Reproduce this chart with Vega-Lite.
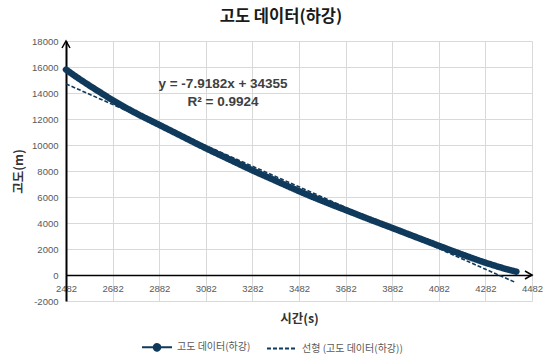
{
  "$schema": "https://vega.github.io/schema/vega-lite/v6.json",
  "width": 466,
  "height": 260,
  "autosize": "none",
  "padding": {"left": 66, "top": 41, "right": 15, "bottom": 58},
  "background": "white",
  "title": {
    "text": "고도 데이터(하강)",
    "font": "Noto Sans CJK KR",
    "fontSize": 16.5,
    "fontWeight": "bold",
    "color": "#1a1a1a",
    "anchor": "middle",
    "dx": -18,
    "offset": 11
  },
  "config": {
    "view": {"stroke": null},
    "axis": {
      "grid": true,
      "gridColor": "#d9d9d9",
      "gridWidth": 1,
      "ticks": false,
      "domainColor": "#000000",
      "labelFont": "Liberation Sans",
      "labelFontSize": 9.5,
      "labelColor": "#595959",
      "titleFont": "Noto Sans CJK KR",
      "titleFontSize": 12.5,
      "titleFontWeight": "bold",
      "titleColor": "#333333"
    },
    "legend": {
      "orient": "none",
      "legendX": 75,
      "legendY": 290,
      "direction": "horizontal",
      "labelFont": "Noto Sans CJK KR",
      "labelFontSize": 10,
      "labelColor": "#595959",
      "symbolSize": 900,
      "symbolStrokeWidth": 2,
      "columnPadding": 12,
      "labelOffset": 4
    }
  },
  "data": {
    "values": [
      {"t": 2482, "alt": 15800, "series": "고도 데이터(하강)"},
      {"t": 2532, "alt": 15170, "series": "고도 데이터(하강)"},
      {"t": 2582, "alt": 14580, "series": "고도 데이터(하강)"},
      {"t": 2632, "alt": 14010, "series": "고도 데이터(하강)"},
      {"t": 2682, "alt": 13450, "series": "고도 데이터(하강)"},
      {"t": 2782, "alt": 12450, "series": "고도 데이터(하강)"},
      {"t": 2882, "alt": 11550, "series": "고도 데이터(하강)"},
      {"t": 2982, "alt": 10650, "series": "고도 데이터(하강)"},
      {"t": 3082, "alt": 9750, "series": "고도 데이터(하강)"},
      {"t": 3182, "alt": 8900, "series": "고도 데이터(하강)"},
      {"t": 3282, "alt": 8050, "series": "고도 데이터(하강)"},
      {"t": 3382, "alt": 7250, "series": "고도 데이터(하강)"},
      {"t": 3482, "alt": 6450, "series": "고도 데이터(하강)"},
      {"t": 3582, "alt": 5700, "series": "고도 데이터(하강)"},
      {"t": 3682, "alt": 5000, "series": "고도 데이터(하강)"},
      {"t": 3782, "alt": 4300, "series": "고도 데이터(하강)"},
      {"t": 3882, "alt": 3620, "series": "고도 데이터(하강)"},
      {"t": 3982, "alt": 2930, "series": "고도 데이터(하강)"},
      {"t": 4082, "alt": 2250, "series": "고도 데이터(하강)"},
      {"t": 4182, "alt": 1580, "series": "고도 데이터(하강)"},
      {"t": 4282, "alt": 950, "series": "고도 데이터(하강)"},
      {"t": 4352, "alt": 560, "series": "고도 데이터(하강)"},
      {"t": 4415, "alt": 250, "series": "고도 데이터(하강)"},
      {"t": 2482, "alt": 14702, "series": "선형 (고도 데이터(하강))"},
      {"t": 4410, "alt": -564, "series": "선형 (고도 데이터(하강))"}
    ]
  },
  "encoding": {
    "x": {
      "field": "t",
      "type": "quantitative",
      "scale": {"domain": [2482, 4482], "nice": false, "zero": false},
      "axis": {
        "title": "시간(s)",
        "offset": -26,
        "values": [2482, 2682, 2882, 3082, 3282, 3482, 3682, 3882, 4082, 4282, 4482],
        "labelExpr": "'' + datum.value",
        "labelFlush": false,
        "labelPadding": 8,
        "domainWidth": 1.5,
        "titlePadding": 20
      }
    },
    "y": {
      "field": "alt",
      "type": "quantitative",
      "scale": {"domain": [-2000, 18000], "nice": false},
      "axis": {
        "title": "고도(m)",
        "values": [-2000, 0, 2000, 4000, 6000, 8000, 10000, 12000, 14000, 16000, 18000],
        "labelExpr": "'' + datum.value",
        "labelPadding": 8,
        "domainWidth": 2,
        "titlePadding": 6
      }
    }
  },
  "layer": [
    {
      "transform": [{"filter": "datum.series === '고도 데이터(하강)'"}],
      "mark": {"type": "line", "strokeWidth": 6.5, "strokeCap": "round", "strokeJoin": "round", "interpolate": "monotone"},
      "encoding": {
        "color": {
          "field": "series",
          "type": "nominal",
          "scale": {"domain": ["고도 데이터(하강)", "선형 (고도 데이터(하강))"], "range": ["#103a5c", "#103a5c"]},
          "legend": {
            "title": null,
            "encode": {
              "symbols": {
                "update": {
                  "shape": {"signal": "datum.value === '고도 데이터(하강)' ? 'M-1,0L1,0M0.22,0A0.22,0.22,0,1,1,-0.22,0A0.22,0.22,0,1,1,0.22,0' : 'stroke'"},
                  "fill": {"signal": "datum.value === '고도 데이터(하강)' ? '#103a5c' : 'transparent'"}
                }
              }
            }
          }
        },
        "strokeDash": {
          "field": "series",
          "type": "nominal",
          "scale": {"domain": ["고도 데이터(하강)", "선형 (고도 데이터(하강))"], "range": [[1, 0], [4, 2]]},
          "legend": {"title": null}
        }
      }
    },
    {
      "transform": [{"filter": "datum.series === '선형 (고도 데이터(하강))'"}],
      "mark": {"type": "line", "strokeWidth": 1.6},
      "encoding": {
        "color": {"field": "series", "type": "nominal"},
        "strokeDash": {"field": "series", "type": "nominal"}
      }
    },
    {
      "data": {"values": [{"t": 2482, "alt": 18000}]},
      "mark": {"type": "point", "shape": "M-2,3.5L0,0L2,3.5", "size": 16, "filled": false, "stroke": "#000000", "strokeWidth": 1.5, "opacity": 1}
    },
    {
      "data": {"values": [{"t": 4482, "alt": 0}]},
      "mark": {"type": "point", "shape": "M-3.5,-2L0,0L-3.5,2", "size": 16, "filled": false, "stroke": "#000000", "strokeWidth": 1.5, "opacity": 1}
    },
    {
      "data": {
        "values": [
          {"t": 3156, "alt": 14700, "label": "y = -7.9182x + 34355"},
          {"t": 3156, "alt": 13300, "label": "R² = 0.9924"}
        ]
      },
      "mark": {"type": "text", "font": "Liberation Sans", "fontSize": 13.5, "fontWeight": "bold", "color": "#404040", "align": "center", "baseline": "middle"},
      "encoding": {"text": {"field": "label", "type": "nominal"}}
    }
  ]
}
